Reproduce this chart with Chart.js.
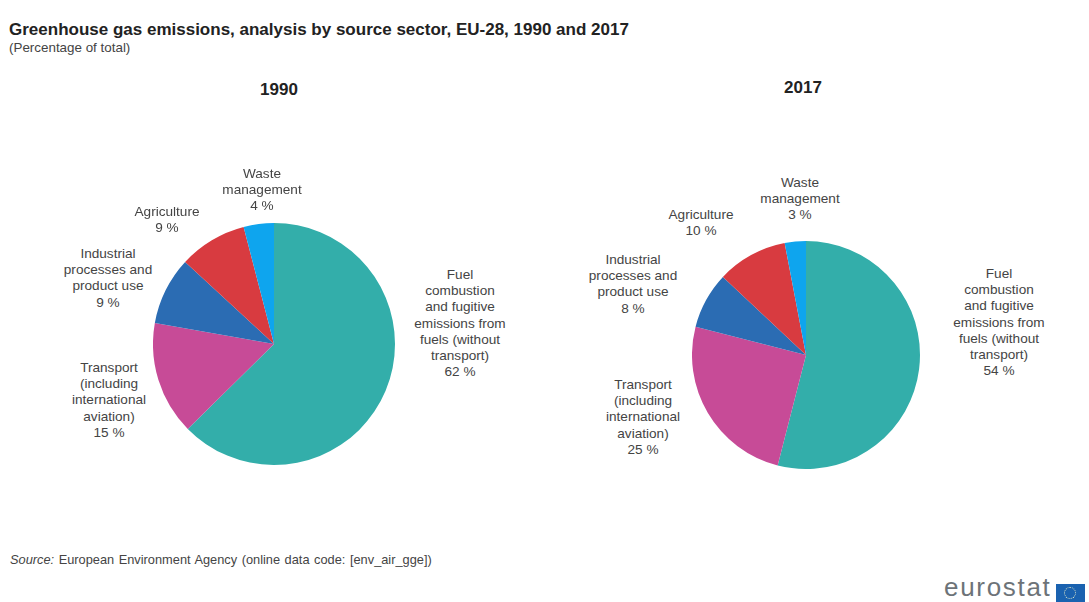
<!DOCTYPE html>
<html>
<head>
<meta charset="utf-8">
<script src="https://cdn.jsdelivr.net/npm/chart.js@4"></script>
<style>
  html, body { margin: 0; padding: 0; background: #fff; }
  #page { position: relative; width: 1089px; height: 602px; overflow: hidden;
          font-family: "Liberation Sans", Arial, sans-serif; color: #333; }
  #page > * { position: absolute; }
  .title { left: 9px; top: 20px; font-size: 17px; font-weight: bold; color: #222; white-space: nowrap; }
  .subtitle { left: 9px; top: 40px; font-size: 13.4px; color: #444; white-space: nowrap; }
  .year { font-size: 17px; font-weight: bold; color: #222; transform: translateX(-50%); }
  .lab { font-size: 13.6px; line-height: 16.2px; text-align: center; white-space: nowrap; transform: translateX(-50%); color: #444; }
  .source { left: 10px; top: 552px; font-size: 12.8px; color: #444; white-space: nowrap; word-spacing: 1px; }
  .logo { left: 944px; top: 576px; font-size: 26px; line-height: 22px; color: #6d7378; letter-spacing: 1.7px; white-space: nowrap; }
  .flag { left: 1056px; top: 584px; width: 29px; height: 18px; background: #1a62b0; }
  .flag i { position: absolute; left: 8px; top: 3px; width: 12px; height: 12px; border: 1.5px dotted #dfe6c8; border-radius: 50%; box-sizing: border-box; }
</style>
</head>
<body>
<div id="page">
  <div class="title">Greenhouse gas emissions, analysis by source sector, EU-28, 1990 and 2017</div>
  <div class="subtitle">(Percentage of total)</div>
  <div class="year" style="left:279px;top:80px">1990</div>
  <div class="year" style="left:803px;top:78px">2017</div>
  <canvas id="pie1990" style="position:absolute;left:153px;top:223px"></canvas>
  <canvas id="pie2017" style="position:absolute;left:692px;top:241px"></canvas>
  <div class="source"><i>Source:</i> European Environment Agency (online data code: [env_air_gge])</div>
  <div class="logo">eurostat</div>
  <div class="flag"><i></i></div>
</div>
<script>
// Emission shares by source sector, clockwise from twelve o'clock
const sectors = [
  ["Fuel", "combustion", "and fugitive", "emissions from", "fuels (without", "transport)"],
  ["Transport", "(including", "international", "aviation)"],
  ["Industrial", "processes and", "product use"],
  ["Agriculture"],
  ["Waste", "management"]
];
const values1990 = [62, 15, 9, 9, 4];
const values2017 = [54, 25, 8, 10, 3];
const sectorColours = ["#33aeaa", "#c74b97", "#2b6cb3", "#d83b40", "#0ea5ee"];

// Label anchors for each pie: horizontal centre and top edge of the text block
const labelX1990 = [460, 109, 108, 167, 262];
const labelY1990 = [267, 360, 246, 204, 166];
const labelX2017 = [999, 643, 633, 701, 800];
const labelY2017 = [266, 377, 252, 207, 175];

function drawPie(id, size, values) {
  const canvas = document.getElementById(id);
  canvas.width = size;
  canvas.height = size;
  canvas.style.width = size + "px";
  canvas.style.height = size + "px";
  new Chart(canvas, {
    type: "pie",
    data: {
      labels: sectors.map(s => s.join(" ")),
      datasets: [{ data: values, backgroundColor: sectorColours, borderWidth: 0 }]
    },
    options: {
      responsive: false,
      animation: false,
      layout: { padding: 0 },
      plugins: { legend: { display: false }, tooltip: { enabled: false } }
    }
  });
}

function addLabels(values, xs, ys) {
  const page = document.getElementById("page");
  values.forEach((v, i) => {
    const el = document.createElement("div");
    el.className = "lab";
    el.style.left = xs[i] + "px";
    el.style.top = ys[i] + "px";
    el.innerHTML = sectors[i].concat(v + " %").join("<br>");
    page.appendChild(el);
  });
}

drawPie("pie1990", 242, values1990);
drawPie("pie2017", 228, values2017);
addLabels(values1990, labelX1990, labelY1990);
addLabels(values2017, labelX2017, labelY2017);
</script>
</body>
</html>
